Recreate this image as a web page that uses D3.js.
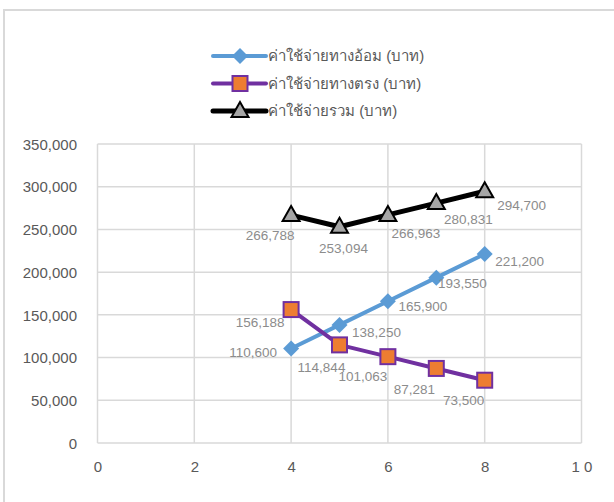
<!DOCTYPE html>
<html>
<head>
<meta charset="utf-8">
<script src="https://cdn.jsdelivr.net/npm/d3@7"></script>
<style>
  html, body { margin: 0; padding: 0; background: #fff; }
  svg { display: block; }
</style>
</head>
<body>
<svg id="chart" width="614" height="502"></svg>
<script>
// Data
const xValues = [4, 5, 6, 7, 8];
const indirectCost = [110600, 138250, 165900, 193550, 221200];
const directCost = [156188, 114844, 101063, 87281, 73500];
const totalCost = [266788, 253094, 266963, 280831, 294700];
const seriesNames = ["ค่าใช้จ่ายทางอ้อม (บาท)", "ค่าใช้จ่ายทางตรง (บาท)", "ค่าใช้จ่ายรวม (บาท)"];
const xTicks = [0, 2, 4, 6, 8, 10];
const yTicks = [0, 50000, 100000, 150000, 200000, 250000, 300000, 350000];

// Label offsets (dx, dy) from each point, in pixels
const indirectLabelOffsets = [[-38, 4], [37, 7], [35, 5], [26, 6], [35, 7]];
const directLabelOffsets = [[-31, 13], [-18, 22], [-25, 20], [-22, 21], [-21, 20]];
const totalLabelOffsets = [[-21, 20], [4, 21], [28, 18], [32, 16], [37, 14]];

const svg = d3.select("#chart");
const fontFamily = "'Liberation Sans', Arial, sans-serif";

// Outer chart frame
svg.append("rect")
  .attr("x", 4).attr("y", 10)
  .attr("width", 700).attr("height", 600)
  .attr("fill", "#fff")
  .attr("stroke", "#d9d9d9").attr("stroke-width", 2);

const x = d3.scaleLinear().domain([0, 10]).range([97.5, 581.5]);
const y = d3.scaleLinear().domain([0, 350000]).range([443, 144]);

// Gridlines
const grid = svg.append("g");
grid.selectAll("line.h").data(yTicks).join("line")
  .attr("x1", x(0)).attr("x2", x(10))
  .attr("y1", d => y(d)).attr("y2", d => y(d))
  .attr("stroke", "#d9d9d9").attr("stroke-width", 1.5);
grid.selectAll("line.v").data(xTicks).join("line")
  .attr("x1", d => x(d)).attr("x2", d => x(d))
  .attr("y1", y(0)).attr("y2", y(350000))
  .attr("stroke", "#d9d9d9").attr("stroke-width", 1.5);

// Axes (labels only)
const fmt = d3.format(",");
const yAxis = d3.axisLeft(y).tickValues(yTicks).tickFormat(fmt).tickSize(0).tickPadding(0);
svg.append("g")
  .attr("transform", "translate(77,0)")
  .call(yAxis)
  .call(g => g.select(".domain").remove())
  .call(g => g.selectAll("text")
    .attr("fill", "#595959").attr("font-size", 15).attr("font-family", fontFamily)
    .attr("dy", "0.35em"));

const xAxis = d3.axisBottom(x).tickValues(xTicks).tickFormat(d => d === 10 ? "1 0" : d).tickSize(0).tickPadding(0);
svg.append("g")
  .attr("transform", "translate(0,467)")
  .call(xAxis)
  .call(g => g.select(".domain").remove())
  .call(g => g.selectAll("text")
    .attr("fill", "#595959").attr("font-size", 15).attr("font-family", fontFamily)
    .attr("dy", "0.35em"));

const line = d3.line().x(d => x(d[0])).y(d => y(d[1]));

function drawSeries(values, color, width, marker, offsets) {
  const pts = xValues.map((v, i) => [v, values[i]]);
  svg.append("path")
    .datum(pts)
    .attr("d", line)
    .attr("fill", "none")
    .attr("stroke", color)
    .attr("stroke-width", width)
    .attr("stroke-linejoin", "round");
  const g = svg.append("g");
  pts.forEach(p => marker(g, x(p[0]), y(p[1])));
  svg.append("g").selectAll("text").data(pts).join("text")
    .attr("x", (d, i) => x(d[0]) + offsets[i][0])
    .attr("y", (d, i) => y(d[1]) + offsets[i][1])
    .attr("dy", "0.35em")
    .attr("text-anchor", "middle")
    .attr("fill", "#8c8c8c")
    .attr("font-size", 13.5)
    .attr("font-family", fontFamily)
    .text(d => fmt(d[1]));
}

function diamond(g, cx, cy) {
  g.append("path")
    .attr("d", `M${cx},${cy - 8}L${cx + 8},${cy}L${cx},${cy + 8}L${cx - 8},${cy}Z`)
    .attr("fill", "#5b9bd5");
}
function square(g, cx, cy) {
  g.append("rect")
    .attr("x", cx - 7.5).attr("y", cy - 7.5)
    .attr("width", 15).attr("height", 15)
    .attr("fill", "#ed7d31")
    .attr("stroke", "#7030a0").attr("stroke-width", 2);
}
function triangle(g, cx, cy) {
  g.append("path")
    .attr("d", `M${cx},${cy - 9}L${cx + 8.5},${cy + 6}L${cx - 8.5},${cy + 6}Z`)
    .attr("fill", "#a5a5a5")
    .attr("stroke", "#000").attr("stroke-width", 2)
    .attr("stroke-linejoin", "miter");
}

drawSeries(totalCost, "#000", 5, triangle, totalLabelOffsets);
drawSeries(indirectCost, "#5b9bd5", 4, diamond, indirectLabelOffsets);
drawSeries(directCost, "#7030a0", 4, square, directLabelOffsets);

// Legend
const legend = [
  { name: seriesNames[0], color: "#5b9bd5", width: 4, marker: diamond },
  { name: seriesNames[1], color: "#7030a0", width: 4, marker: square },
  { name: seriesNames[2], color: "#000", width: 5, marker: triangle }
];
legend.forEach((item, i) => {
  const ly = 56 + i * 27.5;
  const g = svg.append("g");
  g.append("line")
    .attr("x1", 213).attr("x2", 266)
    .attr("y1", ly).attr("y2", ly)
    .attr("stroke", item.color).attr("stroke-width", item.width)
    .attr("stroke-linecap", "round");
  item.marker(g, 240, ly);
  g.append("text")
    .attr("x", 268).attr("y", ly)
    .attr("dy", "0.35em")
    .attr("fill", "#595959")
    .attr("font-size", 15)
    .attr("font-family", fontFamily)
    .text(item.name);
});
</script>
</body>
</html>
